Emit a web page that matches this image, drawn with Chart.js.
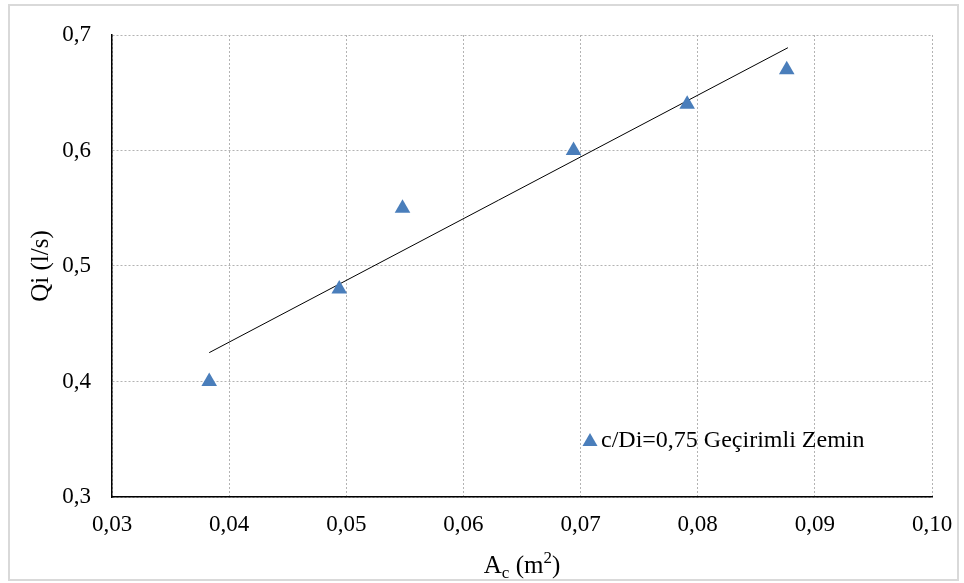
<!DOCTYPE html>
<html>
<head>
<meta charset="utf-8">
<script src="https://cdn.jsdelivr.net/npm/chart.js@4.4.0/dist/chart.umd.min.js"></script>
<style>
  html, body { margin: 0; padding: 0; background: #fff; }
  #wrap { width: 964px; height: 583px; position: relative; }
</style>
</head>
<body>
<div id="wrap"><canvas id="myChart"></canvas></div>
<script>
// Data
const areaValues = [0.0383, 0.0494, 0.0548, 0.0694, 0.0791, 0.0876]; // Ac (m2)
const flowValues = [0.40, 0.48, 0.55, 0.60, 0.64, 0.67]; // Qi (l/s)
const trendX = [0.0383, 0.0877];
const trendY = [0.425, 0.689];
const seriesLabel = 'c/Di=0,75 Geçirimli Zemin';

const serif = "'Liberation Serif', 'Times New Roman', serif";
const markerColor = '#4a7ebb';

// Frame around the whole chart, the A_c (m^2) title and the legend
const decorPlugin = {
    id: 'decor',
    beforeDraw(chart) {
        const c = chart.ctx;
        c.save();
        c.fillStyle = '#fff';
        c.fillRect(0, 0, chart.width, chart.height);
        c.strokeStyle = '#d9d9d9';
        c.lineWidth = 2;
        c.strokeRect(9, 5, 949, 575);
        c.restore();
    },
    afterDraw(chart) {
        const c = chart.ctx;
        const area = chart.chartArea;
        c.save();
        c.fillStyle = '#000';
        c.textBaseline = 'alphabetic';
        c.textAlign = 'left';
        // x title: A_c (m^2)
        const base = 573;
        const big = '25px ' + serif, small = '17px ' + serif;
        c.font = big;
        const wA = c.measureText('A').width;
        const wm = c.measureText(' (m').width;
        const wp = c.measureText(')').width;
        c.font = small;
        const wc = c.measureText('c').width;
        const w2 = c.measureText('2').width;
        let x = (area.left + area.right) / 2 - (wA + wc + wm + w2 + wp) / 2;
        c.font = big;
        c.fillText('A', x, base); x += wA;
        c.font = small;
        c.fillText('c', x, base + 5); x += wc;
        c.font = big;
        c.fillText(' (m', x, base); x += wm;
        c.font = small;
        c.fillText('2', x, base - 10); x += w2;
        c.font = big;
        c.fillText(')', x, base);

        // legend inside the plot
        const lx = 590, ly = 440;
        c.fillStyle = markerColor;
        c.beginPath();
        c.moveTo(lx, ly - 7);
        c.lineTo(lx + 7.5, ly + 6);
        c.lineTo(lx - 7.5, ly + 6);
        c.closePath();
        c.fill();
        c.fillStyle = '#000';
        c.font = '24px ' + serif;
        c.textBaseline = 'middle';
        c.fillText(seriesLabel, lx + 11, ly + 1);
        c.restore();
    }
};

let ctx = document.getElementById('myChart').getContext('2d');
let myChart = new Chart(ctx, {
    type: 'scatter',
    data: {
        datasets: [
            {
                label: seriesLabel,
                data: areaValues.map((v, i) => ({ x: v, y: flowValues[i] })),
                pointStyle: 'triangle',
                pointRadius: 9,
                backgroundColor: markerColor,
                borderColor: markerColor,
                borderWidth: 0,
                order: 1
            },
            {
                label: 'trend',
                type: 'line',
                data: trendX.map((v, i) => ({ x: v, y: trendY[i] })),
                borderColor: '#000',
                borderWidth: 1,
                pointRadius: 0,
                fill: false,
                order: 2
            }
        ]
    },
    options: {
        responsive: true,
        maintainAspectRatio: false,
        animation: false,
        layout: {
            padding: { left: 26, top: 35, right: 32, bottom: 0 }
        },
        plugins: {
            legend: { display: false },
            tooltip: { enabled: false }
        },
        scales: {
            x: {
                type: 'linear',
                min: 0.03,
                max: 0.10,
                ticks: {
                    stepSize: 0.01,
                    padding: 14,
                    color: '#000',
                    font: { family: serif, size: 23 },
                    callback: function(value) {
                        return value.toFixed(2).replace('.', ',');
                    }
                },
                grid: {
                    color: '#b3b3b3',
                    lineWidth: 1,
                    drawTicks: false
                },
                border: { color: '#000', width: 1.5, dash: [2, 2] },
                afterFit: function(scale) {
                    scale.height = 86;
                    scale.paddingRight = 0;
                    scale.paddingLeft = 0;
                }
            },
            y: {
                type: 'linear',
                min: 0.3,
                max: 0.7,
                ticks: {
                    stepSize: 0.1,
                    padding: 21,
                    color: '#000',
                    font: { family: serif, size: 23 },
                    callback: function(value) {
                        return value.toFixed(1).replace('.', ',');
                    }
                },
                title: {
                    display: true,
                    text: 'Qi (l/s)',
                    color: '#000',
                    font: { family: serif, size: 25 },
                    padding: { top: 0, bottom: 0 }
                },
                grid: {
                    color: '#b3b3b3',
                    lineWidth: 1,
                    drawTicks: false
                },
                border: { color: '#000', width: 1.5, dash: [2, 2] },
                afterFit: function(scale) {
                    scale.width = 112 - 26;
                    scale.paddingTop = 0;
                    scale.paddingBottom = 0;
                }
            }
        }
    },
    plugins: [decorPlugin]
});
</script>
</body>
</html>
